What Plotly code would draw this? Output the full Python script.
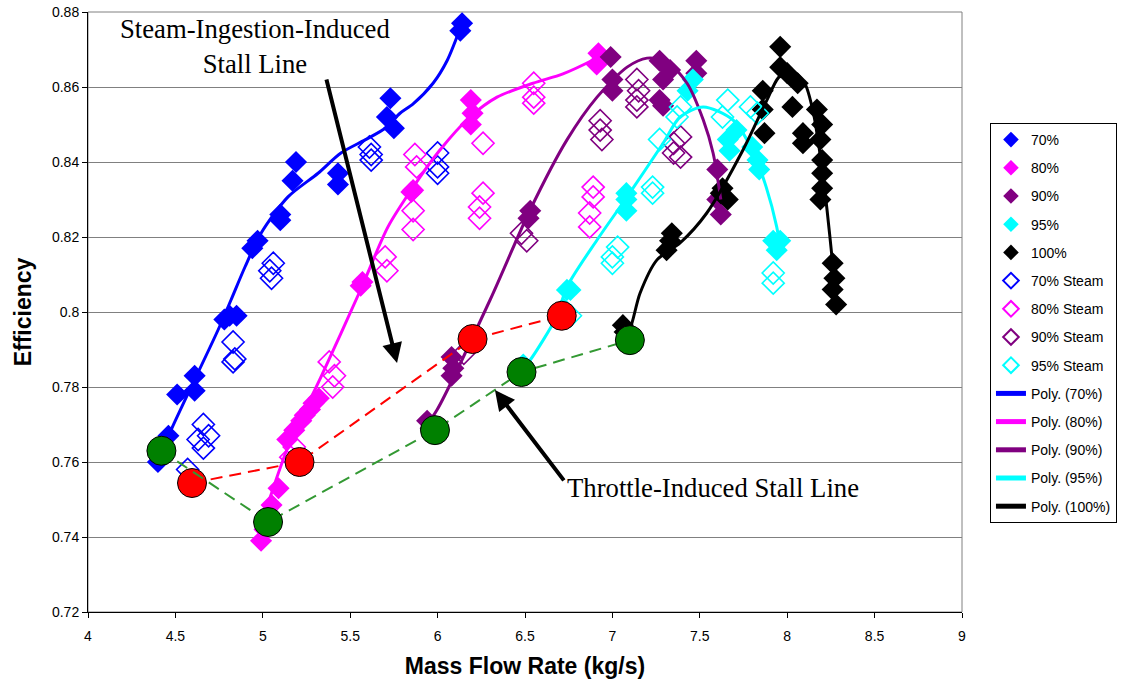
import plotly.graph_objects as go

# ---------------- data ----------------
x70 = [4.40, 4.46, 4.51, 4.61, 4.61, 4.78, 4.81, 4.85, 4.94, 4.97, 5.10, 5.10, 5.17, 5.19,
       5.43, 5.43, 5.71, 5.73, 5.75, 6.13, 6.14]
y70 = [0.760, 0.767, 0.778, 0.783, 0.779, 0.798, 0.799, 0.799, 0.817, 0.819, 0.8245, 0.826,
       0.835, 0.840, 0.837, 0.834, 0.852, 0.857, 0.849, 0.875, 0.877]

x80 = [4.99, 5.01, 5.03, 5.05, 5.09, 5.14, 5.18, 5.22, 5.24, 5.27, 5.29, 5.32, 5.56, 5.57,
       5.85, 5.86, 6.19, 6.20, 6.19, 6.91, 6.92]
y80 = [0.739, 0.742, 0.746, 0.7485, 0.753, 0.766, 0.7685, 0.771, 0.7725, 0.774, 0.7757, 0.777,
       0.807, 0.808, 0.832, 0.8325, 0.850, 0.853, 0.8565, 0.866, 0.869]

x90 = [5.94, 5.96, 6.08, 6.09, 6.08, 6.52, 6.53, 6.99, 7.00, 7.00, 7.27, 7.29, 7.27, 7.29,
       7.33, 7.48, 7.48, 7.60, 7.60, 7.62]
y90 = [0.771, 0.769, 0.783, 0.785, 0.788, 0.825, 0.827, 0.868, 0.862, 0.859, 0.867, 0.862,
       0.8565, 0.855, 0.8645, 0.867, 0.8637, 0.838, 0.830, 0.826]

x95 = [6.49, 6.72, 6.74, 6.76, 7.08, 7.08, 7.08, 7.43, 7.46, 7.66, 7.67, 7.71, 7.80, 7.83,
       7.84, 7.92, 7.94, 7.96]
y95 = [0.786, 0.801, 0.8059, 0.8059, 0.8317, 0.830, 0.827, 0.859, 0.862, 0.846, 0.843, 0.8485,
       0.844, 0.8405, 0.838, 0.819, 0.8165, 0.819]

x100 = [7.07, 7.06, 7.31, 7.33, 7.34, 7.63, 7.66, 7.62, 7.86, 7.87, 7.86, 7.96, 7.96, 8.00,
        8.06, 8.03, 8.09, 8.09, 8.17, 8.20, 8.19, 8.20, 8.20, 8.20, 8.19, 8.26, 8.27, 8.26, 8.28]
y100 = [0.7947, 0.7965, 0.8165, 0.819, 0.821, 0.833, 0.830, 0.8317, 0.859, 0.8477, 0.854,
        0.8707, 0.8653, 0.8637, 0.861, 0.8547, 0.8477, 0.845, 0.854, 0.850, 0.846, 0.8405,
        0.837, 0.833, 0.830, 0.813, 0.809, 0.806, 0.802]

x70s = [4.57, 4.63, 4.66, 4.66, 4.69, 4.83, 4.83, 4.84, 5.04, 5.05, 5.06, 5.61, 5.62, 5.62,
        6.00, 6.00, 6.00]
y70s = [0.758, 0.766, 0.7637, 0.770, 0.767, 0.792, 0.7867, 0.7875, 0.811, 0.809, 0.813, 0.844,
        0.8405, 0.842, 0.8424, 0.8387, 0.837]

x80s = [5.16, 5.18, 5.38, 5.41, 5.40, 5.70, 5.71, 5.87, 5.88, 5.86, 5.86, 6.26, 6.26, 6.24,
        6.24, 6.55, 6.55, 6.55, 6.89, 6.89, 6.87, 6.87]
y80s = [0.7613, 0.764, 0.7867, 0.783, 0.780, 0.8147, 0.811, 0.842, 0.8387, 0.827, 0.822,
        0.845, 0.8317, 0.828, 0.825, 0.861, 0.8573, 0.8557, 0.8333, 0.8307, 0.8264, 0.8227]

x90s = [6.15, 6.48, 6.51, 6.93, 6.93, 6.94, 7.14, 7.15, 7.14, 7.14, 7.35, 7.35, 7.39, 7.39]
y90s = [0.789, 0.821, 0.819, 0.851, 0.8485, 0.846, 0.862, 0.859, 0.8565, 0.8547, 0.845,
        0.8424, 0.8467, 0.8413]

x95s = [6.76, 7.00, 7.00, 7.03, 7.23, 7.23, 7.27, 7.39, 7.37, 7.63, 7.66, 7.79, 7.83, 7.92, 7.92]
y95s = [0.799, 0.8147, 0.813, 0.8173, 0.8333, 0.8317, 0.846, 0.8547, 0.852, 0.852, 0.8565,
        0.8547, 0.853, 0.8104, 0.8077]

# polynomial trendlines
px70 = [4.39, 4.475, 4.744, 4.818, 4.898, 4.99, 5.144, 5.316, 5.447, 5.585, 5.70, 5.785,
        5.86, 5.974, 6.054, 6.14]
py70 = [0.759, 0.7685, 0.7952, 0.8032, 0.812, 0.821, 0.8307, 0.837, 0.8424, 0.8459, 0.849,
        0.853, 0.8555, 0.861, 0.867, 0.877]
px80 = [4.975, 5.144, 5.333, 5.56, 5.716, 5.86, 6.01, 6.185, 6.34, 6.546, 6.717, 6.889, 6.92]
py80 = [0.741, 0.764, 0.7827, 0.806, 0.8227, 0.8333, 0.843, 0.852, 0.8573, 0.861, 0.8635,
        0.8672, 0.868]
px90 = [5.94, 5.997, 6.30, 6.529, 6.74, 6.912, 7.084, 7.198, 7.312, 7.427, 7.52, 7.576, 7.62]
py90 = [0.770, 0.7739, 0.8032, 0.8272, 0.8459, 0.8573, 0.8653, 0.8677, 0.8668, 0.861, 0.8512,
        0.8424, 0.830]
px95 = [6.49, 6.53, 6.68, 6.74, 6.912, 7.084, 7.29, 7.387, 7.52, 7.69, 7.80, 7.88, 7.94, 7.96]
py95 = [0.785, 0.7872, 0.7987, 0.8067, 0.8192, 0.8307, 0.845, 0.852, 0.8547, 0.8512, 0.8432,
        0.8333, 0.8227, 0.817]
px100 = [7.07, 7.10, 7.158, 7.255, 7.387, 7.54, 7.747, 7.884, 7.95, 8.02, 8.10, 8.15, 8.20,
         8.228, 8.256, 8.285]
py100 = [0.794, 0.7955, 0.805, 0.8139, 0.8184, 0.8264, 0.8432, 0.8565, 0.8625, 0.8645, 0.861,
         0.853, 0.838, 0.8272, 0.8147, 0.801]

# stall lines
x_steam_stall = [4.595, 5.21, 6.20, 6.71]
y_steam_stall = [0.7544, 0.760, 0.7928, 0.799]
x_throttle_stall = [4.42, 5.03, 5.985, 6.48, 7.10]
y_throttle_stall = [0.763, 0.744, 0.7685, 0.784, 0.7925]

# axis ticks
x_ticks = [4, 4.5, 5, 5.5, 6, 6.5, 7, 7.5, 8, 8.5, 9]
y_ticks = [0.72, 0.74, 0.76, 0.78, 0.80, 0.82, 0.84, 0.86, 0.88]
y_tick_text = ["0.72", "0.74", "0.76", "0.78", "0.8", "0.82", "0.84", "0.86", "0.88"]

speeds = ["70%", "80%", "90%", "95%", "100%"]
colors = ["#0000FF", "#FF00FF", "#800080", "#00FFFF", "#000000"]
filled = [(x70, y70), (x80, y80), (x90, y90), (x95, y95), (x100, y100)]
steam = [(x70s, y70s), (x80s, y80s), (x90s, y90s), (x95s, y95s)]
trend = [(px70, py70), (px80, py80), (px90, py90), (px95, py95), (px100, py100)]

fig = go.Figure()
g = 0
for name, c, (xs, ys) in zip(speeds, colors, filled):
    g += 1
    fig.add_trace(go.Scatter(x=xs, y=ys, mode="markers", name=name, legendgroup=f"g{g}",
                             marker=dict(symbol="diamond", size=17, color=c, line=dict(width=0))))
for name, c, (xs, ys) in zip(speeds[:4], colors[:4], steam):
    g += 1
    fig.add_trace(go.Scatter(x=xs, y=ys, mode="markers", name=name + " Steam", legendgroup=f"g{g}",
                             marker=dict(symbol="diamond-open", size=17, color=c,
                                         line=dict(width=1.6, color=c))))
for name, c, (xs, ys) in zip(speeds, colors, trend):
    g += 1
    fig.add_trace(go.Scatter(x=xs, y=ys, mode="lines", name=f"Poly. ({name})", legendgroup=f"g{g}",
                             line=dict(color=c, width=3, shape="spline", smoothing=0.8)))

fig.add_trace(go.Scatter(x=x_steam_stall, y=y_steam_stall, mode="lines+markers", showlegend=False,
                         line=dict(color="#FF0000", width=2, dash="12px,7px"),
                         marker=dict(symbol="circle", size=29, color="#FF0000",
                                     line=dict(color="black", width=1))))
fig.add_trace(go.Scatter(x=x_throttle_stall, y=y_throttle_stall, mode="lines+markers", showlegend=False,
                         line=dict(color="#339933", width=2, dash="12px,7px"),
                         marker=dict(symbol="circle", size=29, color="#008000",
                                     line=dict(color="black", width=1))))

serif = "Liberation Serif, Times New Roman, serif"
fig.add_annotation(x=4.955, y=0.8709, xref="x", yref="y", text="Steam-Ingestion-Induced<br>Stall Line",
                   showarrow=False, font=dict(family=serif, size=26.7, color="black"), align="center")
fig.add_annotation(x=6.729, y=0.7531, xref="x", yref="y", text="Throttle-Induced Stall Line",
                   showarrow=False, xanchor="left", font=dict(family=serif, size=26.7, color="black"))
fig.add_annotation(x=5.768, y=0.7864, ax=5.362, ay=0.8624, xref="x", yref="y", axref="x", ayref="y",
                   text="", showarrow=True, arrowhead=2, arrowsize=1, arrowwidth=4, arrowcolor="black")
fig.add_annotation(x=6.328, y=0.7792, ax=6.729, ay=0.7547, xref="x", yref="y", axref="x", ayref="y",
                   text="", showarrow=True, arrowhead=2, arrowsize=1, arrowwidth=4, arrowcolor="black")

fig.add_shape(type="rect", xref="paper", yref="paper", x0=0, y0=0, x1=1, y1=1,
              line=dict(color="#808080", width=1), layer="below")

fig.update_layout(
    width=1125, height=685,
    margin=dict(l=88, r=163, t=12, b=73, autoexpand=False),
    paper_bgcolor="white", plot_bgcolor="white",
    font=dict(family="Arial, Liberation Sans, sans-serif", color="black"),
    legend=dict(x=1.032, y=0.815, xanchor="left", yanchor="top", bordercolor="black", borderwidth=1,
                font=dict(size=14), itemsizing="constant", tracegroupgap=7, bgcolor="white"),
    xaxis=dict(range=[4, 9], tickmode="array", tickvals=x_ticks, showgrid=False, zeroline=False,
               showline=True, linecolor="black", linewidth=1, ticks="outside", ticklen=5,
               tickcolor="black", tickfont=dict(size=14), ticklabelstandoff=6,
               ticklabeloverflow="allow",
               title=dict(text="<b>Mass Flow Rate (kg/s)</b>", font=dict(size=23), standoff=15)),
    yaxis=dict(range=[0.72, 0.88], tickmode="array", tickvals=y_ticks, ticktext=y_tick_text,
               showgrid=True, gridcolor="#808080", gridwidth=1, zeroline=False, showline=True,
               linecolor="black", linewidth=1, ticks="outside", ticklen=5, tickcolor="black",
               tickfont=dict(size=14), ticklabeloverflow="allow",
               title=dict(text="<b>Efficiency</b>", font=dict(size=23), standoff=13)),
)

fig.write_html("out.html", config={"displayModeBar": False},
               post_script="document.body.style.margin='0';document.body.style.overflow='hidden';")
